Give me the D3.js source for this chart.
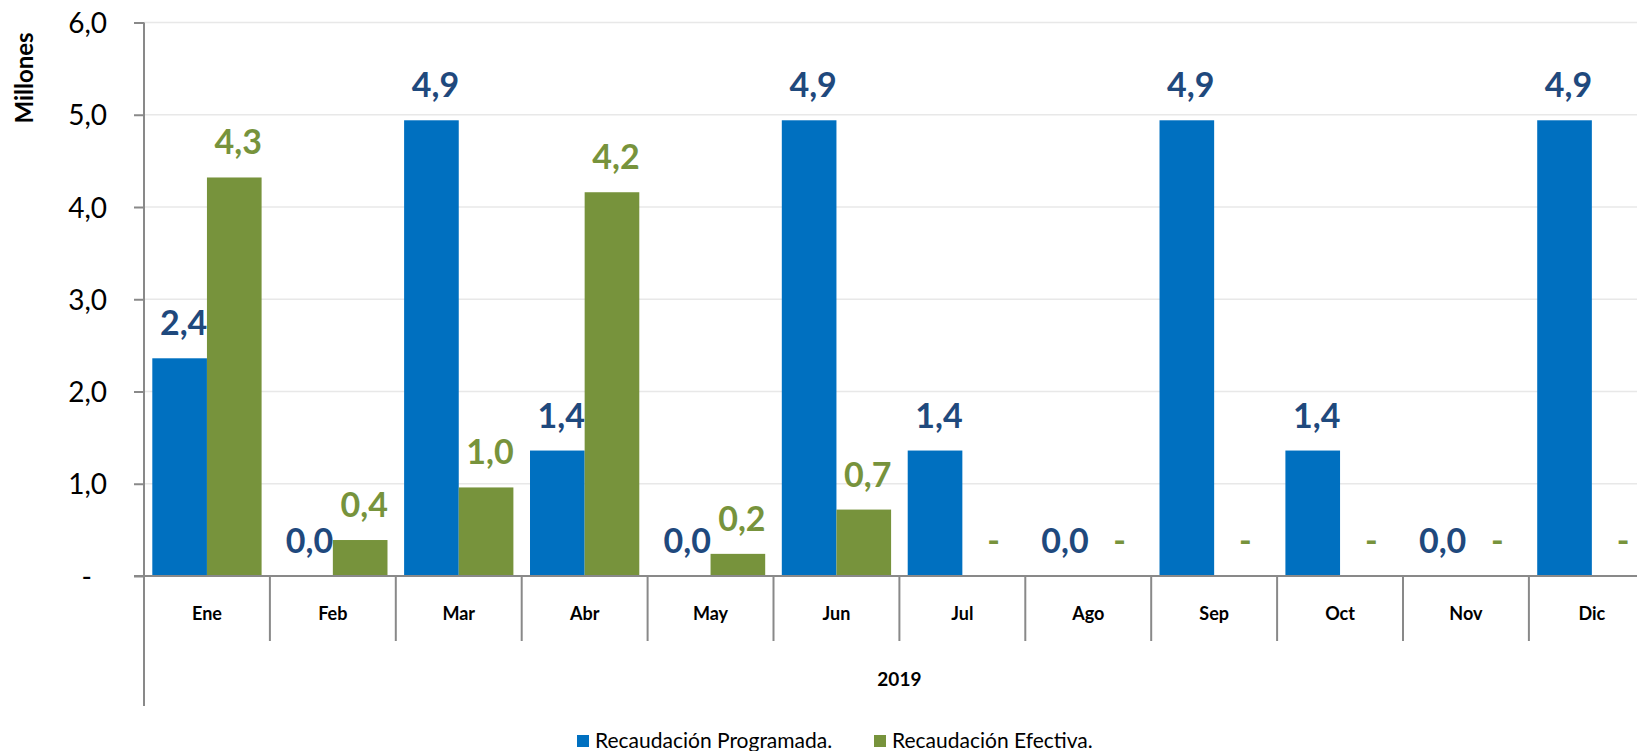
<!DOCTYPE html>
<html>
<head>
<meta charset="utf-8">
<script src="https://cdn.jsdelivr.net/npm/d3@7"></script>
<style>
  body { margin: 0; background: #fff; }
  text { font-family: Lato, sans-serif; }
</style>
</head>
<body>
<div id="chart"></div>
<script>
// data (millones)
const months = ["Ene", "Feb", "Mar", "Abr", "May", "Jun", "Jul", "Ago", "Sep", "Oct", "Nov", "Dic"];
const programada = [2.36, 0, 4.94, 1.36, 0, 4.94, 1.36, 0, 4.94, 1.36, 0, 4.94];
const efectiva = [4.32, 0.39, 0.96, 4.16, 0.24, 0.72, null, null, null, null, null, null];
const seriesNames = ["Recaudación Programada.", "Recaudación Efectiva."];
const yTicks = [0, 1, 2, 3, 4, 5, 6];
const yearLabel = "2019";
const yTitle = "Millones";

const barColors = ["#0070C0", "#77933C"];
const labelColors = ["#1F497D", "#77933C"];

const W = 1637, H = 751;
const axisX = 144, baseY = 576, topY = 22.5;
const step = 125.9;

const locale = d3.formatLocale({decimal: ",", thousands: ".", grouping: [3], currency: ["", ""]});
const fmt = locale.format(".1f");

const svg = d3.select("#chart")
    .append("svg")
    .attr("width", W)
    .attr("height", H);

// scales
const x0 = d3.scaleBand()
    .domain(months)
    .range([axisX, axisX + step * months.length])
    .padding(0);

const x1 = d3.scaleBand()
    .domain([0, 1])
    .range([0, x0.bandwidth()])
    .paddingInner(0)
    .paddingOuter(0.152);

const y = d3.scaleLinear()
    .domain([0, 6])
    .range([baseY, topY]);

// gridlines
svg.append("g")
    .selectAll("line")
    .data(yTicks.filter(d => d > 0))
    .join("line")
    .attr("x1", axisX)
    .attr("x2", W)
    .attr("y1", d => y(d))
    .attr("y2", d => y(d))
    .attr("stroke", "#E8E8E8")
    .attr("stroke-width", 1.5);

// y axis
const yAxis = svg.append("g")
    .attr("transform", `translate(${axisX},0)`)
    .call(d3.axisLeft(y).tickValues(yTicks).tickSize(10).tickPadding(27)
        .tickFormat(d => d === 0 ? "-" : fmt(d)));
yAxis.select(".domain").remove();
yAxis.selectAll(".tick line").attr("stroke", "#898989").attr("stroke-width", 2);
yAxis.selectAll(".tick text")
    .style("font-family", "Lato, sans-serif")
    .style("font-size", "28px")
    .attr("fill", "#000")
    .attr("dy", "0.36em")
    .attr("x", d => d === 0 ? -52 : -37);

// vertical axis line runs down past the category rows
svg.append("line")
    .attr("x1", axisX).attr("x2", axisX)
    .attr("y1", topY).attr("y2", 706)
    .attr("stroke", "#898989").attr("stroke-width", 2);

// category separators
svg.append("g")
    .selectAll("line")
    .data(months)
    .join("line")
    .attr("x1", d => x0(d) + x0.bandwidth())
    .attr("x2", d => x0(d) + x0.bandwidth())
    .attr("y1", baseY)
    .attr("y2", 641)
    .attr("stroke", "#898989")
    .attr("stroke-width", 2);

// bars
const rows = months.map((m, i) => ({month: m, values: [
    {key: 0, v: programada[i]},
    {key: 1, v: efectiva[i]}
]}));

const groups = svg.append("g")
    .selectAll("g")
    .data(rows)
    .join("g")
    .attr("transform", d => `translate(${x0(d.month)},0)`);

groups.selectAll("rect")
    .data(d => d.values.filter(v => v.v != null && v.v > 0))
    .join("rect")
    .attr("x", d => x1(d.key))
    .attr("y", d => y(d.v))
    .attr("width", x1.bandwidth())
    .attr("height", d => y(0) - y(d.v))
    .attr("fill", d => barColors[d.key]);

// value labels
groups.selectAll("text")
    .data(d => d.values)
    .join("text")
    .attr("x", d => x1(d.key) + x1.bandwidth() / 2 + 4)
    .attr("y", d => y(d.v == null ? 0 : d.v) - 23)
    .attr("text-anchor", "middle")
    .style("font-size", "34px")
    .style("font-weight", "bold")
    .attr("fill", d => labelColors[d.key])
    .text(d => d.v == null ? "-" : fmt(d.v));

// x axis baseline
svg.append("line")
    .attr("x1", axisX - 10).attr("x2", W)
    .attr("y1", baseY).attr("y2", baseY)
    .attr("stroke", "#898989").attr("stroke-width", 2);

// month labels
svg.append("g")
    .selectAll("text")
    .data(months)
    .join("text")
    .attr("x", d => x0(d) + x0.bandwidth() / 2)
    .attr("y", 620)
    .attr("text-anchor", "middle")
    .style("font-size", "18px")
    .style("font-weight", "bold")
    .attr("fill", "#000")
    .text(d => d);

// year label centred under all months
svg.append("text")
    .attr("x", (x0.range()[0] + x0.range()[1]) / 2)
    .attr("y", 686)
    .attr("text-anchor", "middle")
    .style("font-size", "19px")
    .style("font-weight", "bold")
    .text(yearLabel);

// y title
svg.append("text")
    .attr("transform", "translate(33,78) rotate(-90)")
    .attr("text-anchor", "middle")
    .style("font-size", "24px")
    .style("font-weight", "bold")
    .text(yTitle);

// legend
const legendX = [577, 874];
const legend = svg.append("g")
    .selectAll("g")
    .data(seriesNames)
    .join("g")
    .attr("transform", (d, i) => `translate(${legendX[i]},741)`);

legend.append("rect")
    .attr("x", 0).attr("y", -6)
    .attr("width", 12).attr("height", 12)
    .attr("fill", (d, i) => barColors[i]);

legend.append("text")
    .attr("x", 18)
    .attr("dy", "0.35em")
    .style("font-size", "21px")
    .attr("fill", "#000")
    .text(d => d);
</script>
</body>
</html>
